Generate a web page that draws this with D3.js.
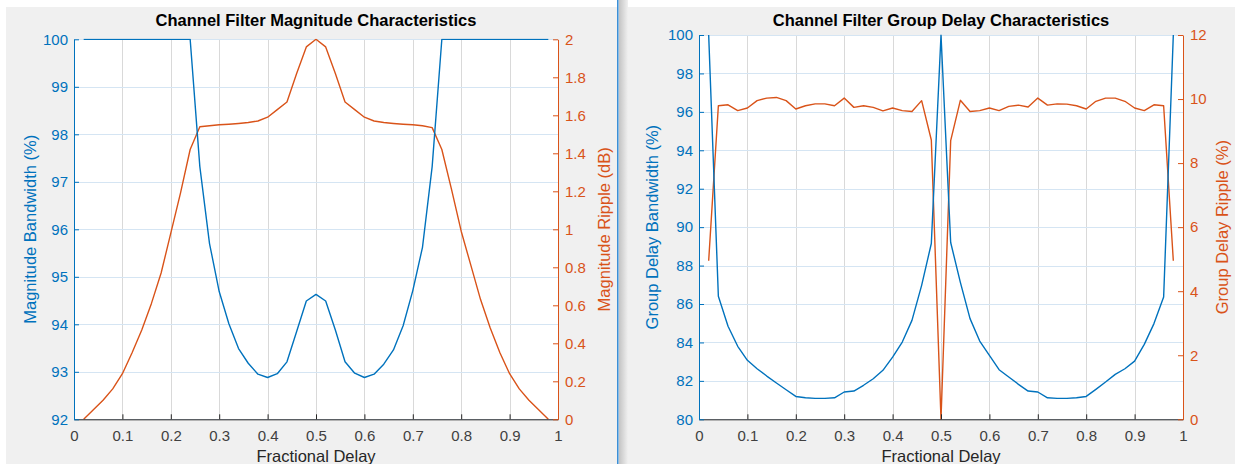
<!DOCTYPE html>
<html>
<head>
<meta charset="utf-8">
<script src="https://cdn.jsdelivr.net/npm/d3@7"></script>
<style>
  html, body { margin: 0; padding: 0; background: #ffffff; }
  svg { display: block; }
  text { font-family: "Liberation Sans", Arial, Helvetica, sans-serif; }
</style>
</head>
<body>
<svg id="chart" width="1235" height="464"></svg>
<script>
// ---------------- data ----------------
const fractionalDelay = [0.02,0.04,0.06,0.08,0.10,0.12,0.14,0.16,0.18,0.20,0.22,0.24,0.26,0.28,0.30,0.32,0.34,0.36,0.38,0.40,0.42,0.44,0.46,0.48,0.50,0.52,0.54,0.56,0.58,0.60,0.62,0.64,0.66,0.68,0.70,0.72,0.74,0.76,0.78,0.80,0.82,0.84,0.86,0.88,0.90,0.92,0.94,0.96,0.98];

// Magnitude bandwidth (%) - left axis of left chart
const magBandwidth = [100,100,100,100,100,100,100,100,100,100,100,100,97.32,95.70,94.69,94.01,93.49,93.18,92.95,92.88,92.96,93.21,93.85,94.49,94.63,94.49,93.88,93.21,92.97,92.88,92.95,93.16,93.46,93.97,94.71,95.62,97.32,100,100,100,100,100,100,100,100,100,100,100,100];

// Magnitude ripple (dB) - right axis of left chart
const magRipple = [0.00,0.05,0.10,0.16,0.24,0.35,0.47,0.61,0.77,0.98,1.19,1.42,1.54,1.545,1.55,1.553,1.557,1.562,1.57,1.59,1.63,1.67,1.82,1.96,2.00,1.96,1.82,1.67,1.63,1.59,1.57,1.562,1.557,1.553,1.55,1.545,1.535,1.42,1.21,0.99,0.81,0.63,0.48,0.35,0.24,0.16,0.10,0.05,0.00];

// Group delay bandwidth (%) - left axis of right chart
const gdBandwidth = [100,86.40,84.84,83.80,83.07,82.63,82.25,81.89,81.54,81.19,81.12,81.09,81.09,81.12,81.42,81.47,81.77,82.11,82.55,83.24,84.02,85.15,86.97,89.15,100,89.20,87.13,85.24,84.07,83.33,82.58,82.20,81.82,81.47,81.42,81.12,81.09,81.09,81.12,81.19,81.56,81.94,82.34,82.63,83.03,83.90,84.98,86.36,100];

// Group delay ripple (%) - right axis of right chart
const gdRipple = [4.95,9.79,9.82,9.64,9.72,9.95,10.03,10.05,9.95,9.69,9.79,9.85,9.85,9.79,10.03,9.74,9.79,9.74,9.63,9.72,9.64,9.61,9.95,8.72,0,8.70,9.96,9.61,9.64,9.72,9.64,9.77,9.81,9.75,10.03,9.81,9.85,9.84,9.79,9.69,9.93,10.03,10.03,9.93,9.72,9.64,9.82,9.79,4.95];

// tick labels
const xTicks = [0,0.1,0.2,0.3,0.4,0.5,0.6,0.7,0.8,0.9,1];
const xTickLabels = ["0","0.1","0.2","0.3","0.4","0.5","0.6","0.7","0.8","0.9","1"];
const magBwTicks = [92,93,94,95,96,97,98,99,100];
const magRipTicks = [0,0.2,0.4,0.6,0.8,1,1.2,1.4,1.6,1.8,2];
const magRipTickLabels = ["0","0.2","0.4","0.6","0.8","1","1.2","1.4","1.6","1.8","2"];
const gdBwTicks = [80,82,84,86,88,90,92,94,96,98,100];
const gdRipTicks = [0,2,4,6,8,10,12];

const titles = ["Channel Filter Magnitude Characteristics", "Channel Filter Group Delay Characteristics"];
const xLabel = "Fractional Delay";
const leftLabels = ["Magnitude Bandwidth (%)", "Group Delay Bandwidth (%)"];
const rightLabels = ["Magnitude Ripple (dB)", "Group Delay Ripple (%)"];

// ---------------- style ----------------
const BLUE = "#0072BD";
const ORANGE = "#D95319";
const DARK = "#262626";
const FIG_BG = "#f0f0f0";
const TICK_FS = 15;
const LABEL_FS = 16.5;

const svg = d3.select("#chart");

// defs
const defs = svg.append("defs");
const grad = defs.append("linearGradient").attr("id", "shadow").attr("x1", "0").attr("x2", "1").attr("y1", "0").attr("y2", "0");
grad.append("stop").attr("offset", "0").attr("stop-color", "#c4c4c4");
grad.append("stop").attr("offset", "1").attr("stop-color", FIG_BG);

// figure backgrounds
svg.append("rect").attr("x", 6).attr("y", 7).attr("width", 611).attr("height", 457).attr("fill", FIG_BG);
svg.append("rect").attr("x", 619).attr("y", 7).attr("width", 616).attr("height", 457).attr("fill", FIG_BG);
svg.append("rect").attr("x", 619).attr("y", 0).attr("width", 9).attr("height", 464).attr("fill", "url(#shadow)");
svg.append("line").attr("x1", 617.8).attr("x2", 617.8).attr("y1", 0).attr("y2", 464)
  .attr("stroke", "#3b8fd6").attr("stroke-width", 1.6);

function drawPanel(cfg) {
  const g = svg.append("g");
  const x = d3.scaleLinear().domain([0, 1]).range([cfg.x0, cfg.x1]);
  const yL = d3.scaleLinear().domain(cfg.leftDomain).range([cfg.y1, cfg.y0]);
  const yR = d3.scaleLinear().domain(cfg.rightDomain).range([cfg.y1, cfg.y0]);

  // plot area
  g.append("rect").attr("x", cfg.x0).attr("y", cfg.y0).attr("width", cfg.x1 - cfg.x0).attr("height", cfg.y1 - cfg.y0).attr("fill", "#ffffff");

  // grid
  g.append("g").selectAll("line").data(xTicks.slice(1, -1)).join("line")
    .attr("x1", d => Math.round(x(d)) + 0.5).attr("x2", d => Math.round(x(d)) + 0.5)
    .attr("y1", cfg.y0).attr("y2", cfg.y1)
    .attr("stroke", "#d9d9d9").attr("stroke-width", 1);
  g.append("g").selectAll("line").data(cfg.leftTicks).join("line")
    .attr("x1", cfg.x0).attr("x2", cfg.x1)
    .attr("y1", d => Math.round(yL(d)) + 0.5).attr("y2", d => Math.round(yL(d)) + 0.5)
    .attr("stroke", "#d5e5f3").attr("stroke-width", 1);

  // clip
  const clipId = "clip" + cfg.id;
  defs.append("clipPath").attr("id", clipId).append("rect")
    .attr("x", cfg.x0).attr("y", cfg.y0 - 0.5).attr("width", cfg.x1 - cfg.x0).attr("height", cfg.y1 - cfg.y0 + 1);

  const lineL = d3.line().x((d, i) => x(fractionalDelay[i])).y(d => yL(d));
  const lineR = d3.line().x((d, i) => x(fractionalDelay[i])).y(d => yR(d));

  const plot = g.append("g").attr("clip-path", `url(#${clipId})`);
  plot.append("path").datum(cfg.rightData).attr("d", lineR)
    .attr("fill", "none").attr("stroke", ORANGE).attr("stroke-width", 1.4).attr("stroke-linejoin", "round");
  plot.append("path").datum(cfg.leftData).attr("d", lineL)
    .attr("fill", "none").attr("stroke", BLUE).attr("stroke-width", 1.4).attr("stroke-linejoin", "round");

  // axes
  const xAxis = d3.axisBottom(x).tickValues(xTicks).tickFormat((d, i) => xTickLabels[i]).tickSizeInner(-5).tickSizeOuter(0).tickPadding(11);
  const gx = g.append("g").attr("transform", `translate(0,${cfg.y1})`).call(xAxis);
  gx.select(".domain").attr("stroke", DARK);
  gx.selectAll(".tick line").attr("stroke", DARK);
  gx.selectAll(".tick text").attr("fill", "#404040").attr("font-size", TICK_FS).attr("font-family", "Liberation Sans, Arial, sans-serif");

  const yAxisL = d3.axisLeft(yL).tickValues(cfg.leftTicks).tickFormat((d, i) => cfg.leftTickLabels[i]).tickSizeInner(-5).tickSizeOuter(0).tickPadding(6);
  const gyl = g.append("g").attr("transform", `translate(${cfg.x0},0)`).call(yAxisL);
  gyl.select(".domain").attr("stroke", BLUE);
  gyl.selectAll(".tick line").attr("stroke", BLUE);
  gyl.selectAll(".tick text").attr("fill", BLUE).attr("font-size", TICK_FS).attr("font-family", "Liberation Sans, Arial, sans-serif");

  const yAxisR = d3.axisRight(yR).tickValues(cfg.rightTicks).tickFormat((d, i) => cfg.rightTickLabels[i]).tickSizeInner(-5).tickSizeOuter(0).tickPadding(7);
  const gyr = g.append("g").attr("transform", `translate(${cfg.x1},0)`).call(yAxisR);
  gyr.select(".domain").attr("stroke", ORANGE);
  gyr.selectAll(".tick line").attr("stroke", ORANGE);
  gyr.selectAll(".tick text").attr("fill", ORANGE).attr("font-size", TICK_FS).attr("font-family", "Liberation Sans, Arial, sans-serif");

  // title
  const cx = (cfg.x0 + cfg.x1) / 2;
  g.append("text").attr("x", cx).attr("y", 26).attr("text-anchor", "middle")
    .attr("font-size", LABEL_FS).attr("font-weight", "bold").attr("fill", "#000").text(cfg.title);
  // x label
  g.append("text").attr("x", cx).attr("y", 462).attr("text-anchor", "middle")
    .attr("font-size", LABEL_FS).attr("fill", DARK).text(xLabel);
  // y labels
  const cy = (cfg.y0 + cfg.y1) / 2;
  g.append("text").attr("transform", `translate(${cfg.leftLabelX},${cy}) rotate(-90)`).attr("text-anchor", "middle")
    .attr("font-size", LABEL_FS).attr("fill", BLUE).text(cfg.leftLabel);
  g.append("text").attr("transform", `translate(${cfg.rightLabelX},${cy}) rotate(-90)`).attr("text-anchor", "middle")
    .attr("font-size", LABEL_FS).attr("fill", ORANGE).text(cfg.rightLabel);
}

drawPanel({
  id: "A", x0: 74, x1: 558, y0: 39.3, y1: 419.3,
  leftDomain: [92, 100], rightDomain: [0, 2],
  leftTicks: magBwTicks, leftTickLabels: magBwTicks.map(String),
  rightTicks: magRipTicks, rightTickLabels: magRipTickLabels,
  leftData: magBandwidth, rightData: magRipple,
  title: titles[0], leftLabel: leftLabels[0], rightLabel: rightLabels[0],
  leftLabelX: 36, rightLabelX: 610
});

drawPanel({
  id: "B", x0: 699, x1: 1183, y0: 35, y1: 419.3,
  leftDomain: [80, 100], rightDomain: [0, 12],
  leftTicks: gdBwTicks, leftTickLabels: gdBwTicks.map(String),
  rightTicks: gdRipTicks, rightTickLabels: gdRipTicks.map(String),
  leftData: gdBandwidth, rightData: gdRipple,
  title: titles[1], leftLabel: leftLabels[1], rightLabel: rightLabels[1],
  leftLabelX: 658, rightLabelX: 1228
});
</script>
</body>
</html>
